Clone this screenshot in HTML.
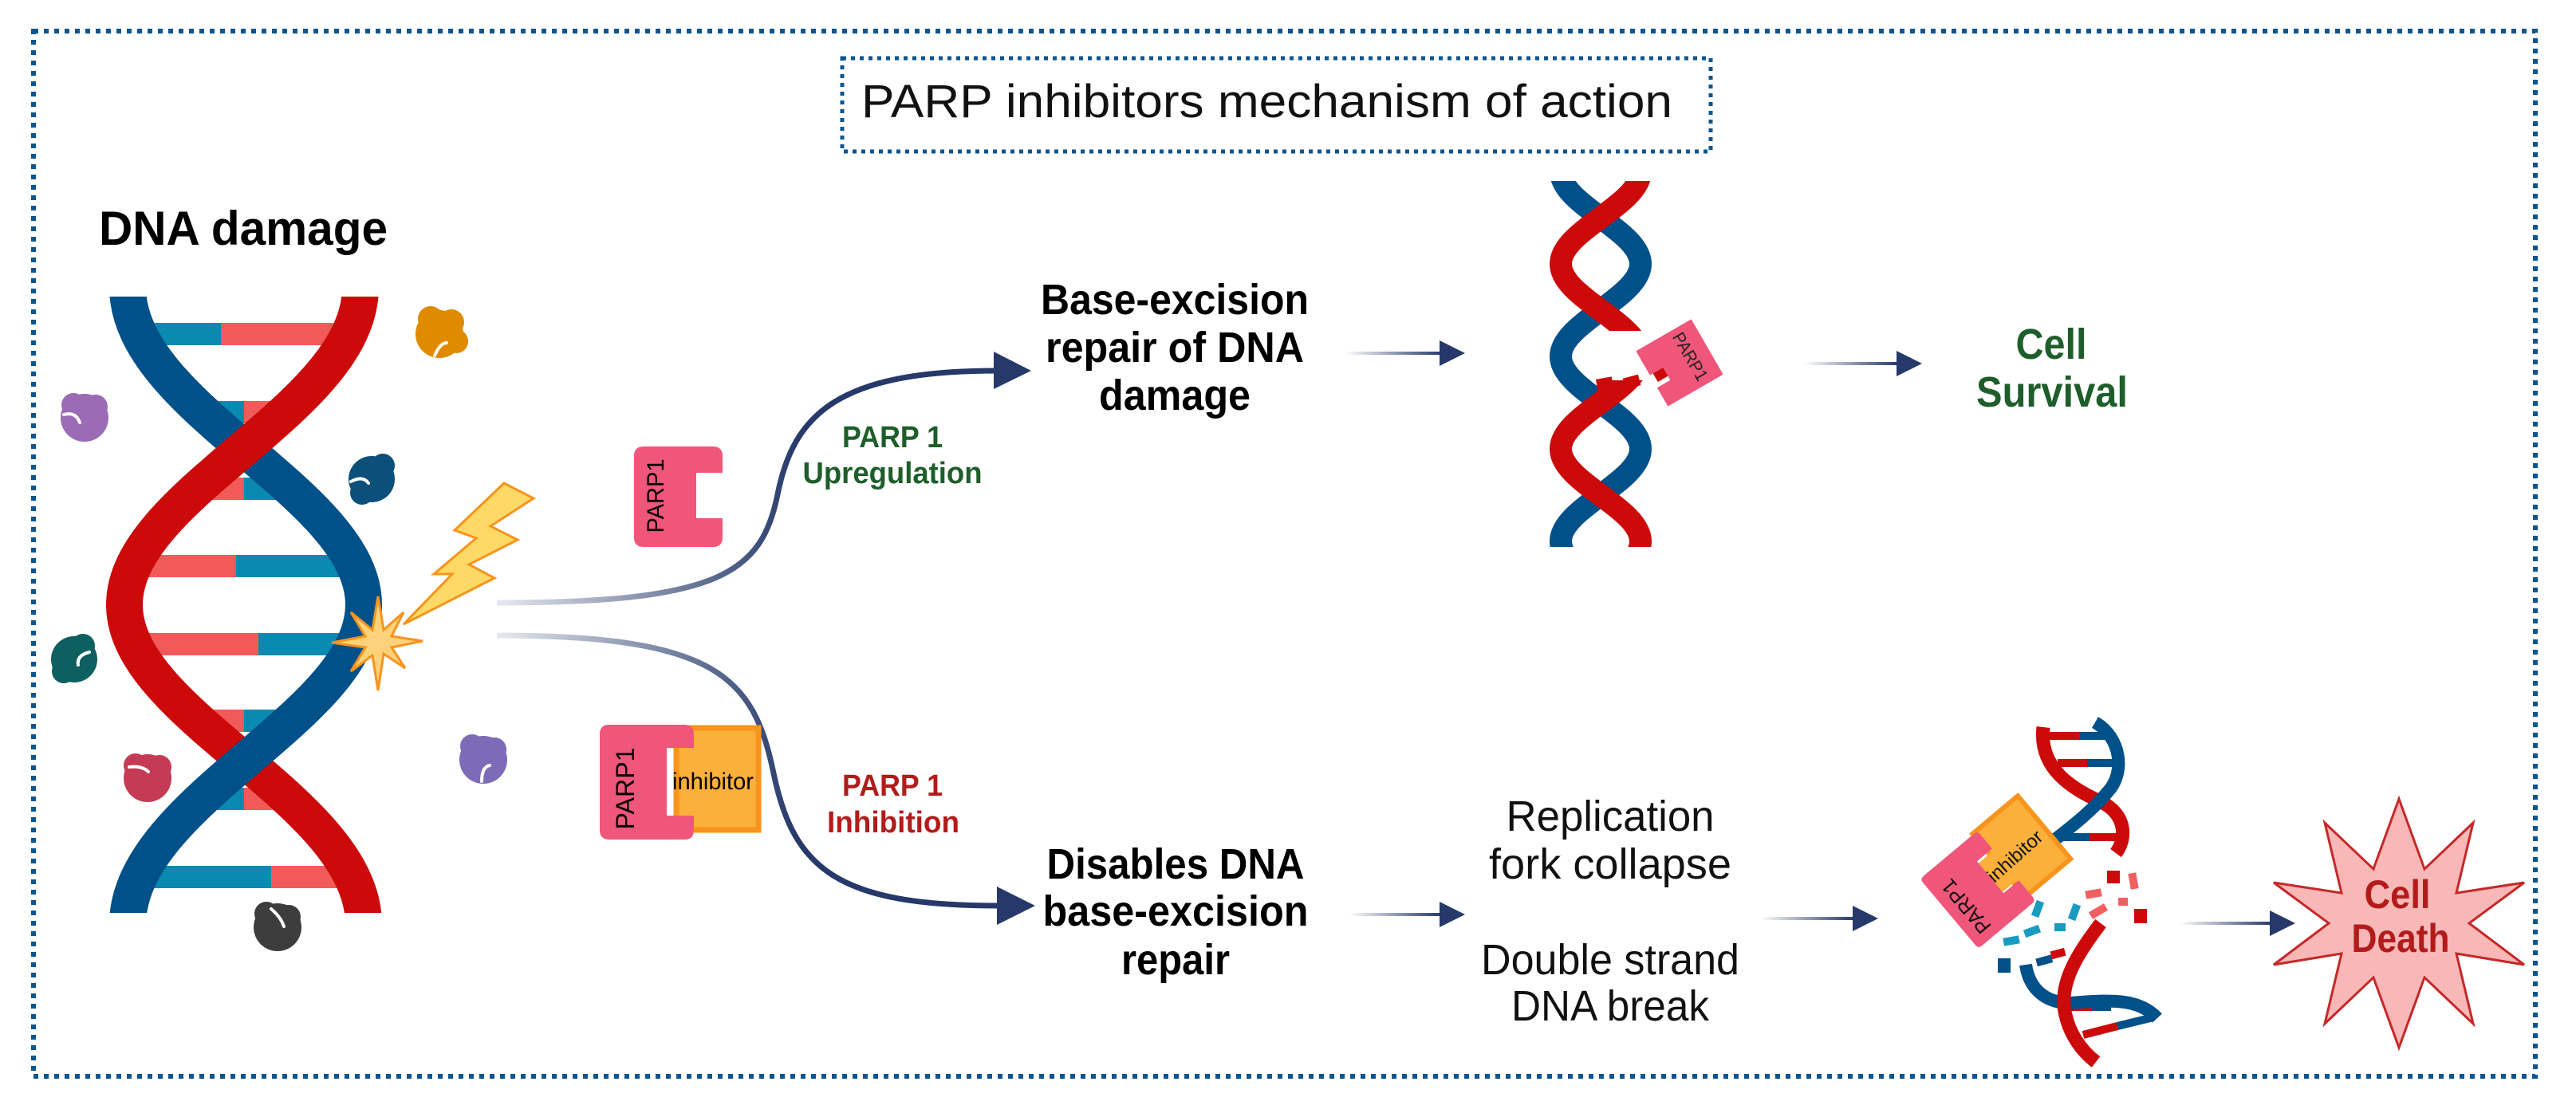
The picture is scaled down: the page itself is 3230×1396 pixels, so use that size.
<!DOCTYPE html>
<html><head><meta charset="utf-8"><style>
html,body{margin:0;padding:0;background:#fff;}
svg{display:block;}
text{font-family:"Liberation Sans",sans-serif;}
</style></head><body>
<svg width="3230" height="1396" viewBox="0 0 3230 1396" xmlns="http://www.w3.org/2000/svg">
<defs>
<linearGradient id="gU" gradientUnits="userSpaceOnUse" x1="623" y1="0" x2="1000" y2="0"><stop offset="0" stop-color="#e6e9ef"/><stop offset="1" stop-color="#26396a"/></linearGradient>
<linearGradient id="gA" x1="0" y1="0" x2="1" y2="0"><stop offset="0" stop-color="#ffffff"/><stop offset="1" stop-color="#26396a"/></linearGradient>
<clipPath id="cTop"><rect x="1900" y="227" width="250" height="459"/></clipPath>
<clipPath id="cRed"><rect x="1900" y="227" width="250" height="188"/><rect x="1900" y="477" width="250" height="209"/></clipPath>
<clipPath id="cL"><rect x="100" y="372" width="420" height="773"/></clipPath>
<clipPath id="cL2"><rect x="100" y="758" width="420" height="387"/></clipPath>
</defs>

<rect x="42" y="39" width="3137" height="1311" fill="none" stroke="#0b5590" stroke-width="6" stroke-dasharray="6 7"/>
<rect x="1056" y="73" width="1089" height="117" fill="none" stroke="#0b5590" stroke-width="5" stroke-dasharray="5 6"/>
<text x="1080" y="147" font-size="58" textLength="1017" lengthAdjust="spacingAndGlyphs" fill="#111">PARP inhibitors mechanism of action</text>

<text x="124" y="307" font-size="60" font-weight="bold" textLength="362" lengthAdjust="spacingAndGlyphs" fill="#000">DNA damage</text>

<g>
<g>
<rect x="167" y="405" width="110" height="28" fill="#0a8ab0"/><rect x="277" y="405" width="168" height="28" fill="#f25a5a"/>
<rect x="249" y="503" width="57" height="28" fill="#0a8ab0"/><rect x="306" y="503" width="57" height="28" fill="#f25a5a"/>
<rect x="249" y="599" width="57" height="28" fill="#f25a5a"/><rect x="306" y="599" width="57" height="28" fill="#0a8ab0"/>
<rect x="168" y="696" width="128" height="28" fill="#f25a5a"/><rect x="296" y="696" width="148" height="28" fill="#0a8ab0"/>
<rect x="168" y="794" width="156" height="28" fill="#f25a5a"/><rect x="324" y="794" width="120" height="28" fill="#0a8ab0"/>
<rect x="249" y="890" width="57" height="28" fill="#f25a5a"/><rect x="306" y="890" width="57" height="28" fill="#0a8ab0"/>
<rect x="247" y="988" width="59" height="28" fill="#0a8ab0"/><rect x="306" y="988" width="59" height="28" fill="#f25a5a"/>
<rect x="166" y="1086" width="174" height="28" fill="#0a8ab0"/><rect x="340" y="1086" width="106" height="28" fill="#f25a5a"/>
</g>
<g clip-path="url(#cL)" fill="none" stroke-width="46">
<path d="M160,360 C160,513 456,618 456,758.5 C456,899 160,1004 160,1160" stroke="#005089"/>
<path d="M452,360 C452,513 156,618 156,758.5 C156,899 456,1004 456,1160" stroke="#cc0a0a"/>
</g>
<g clip-path="url(#cL2)" fill="none" stroke-width="46">
<path d="M160,360 C160,513 456,618 456,758.5 C456,899 160,1004 160,1160" stroke="#005089"/>
</g>
</g>

<!-- proteins -->
<g stroke="#fff" stroke-width="4" stroke-linecap="round" fill="none">
<g><g fill="#e08a00" stroke="none"><circle cx="551" cy="419" r="30"/><circle cx="540" cy="400" r="16"/><circle cx="566" cy="404" r="16"/><circle cx="572" cy="428" r="15"/></g><path d="M545,446 Q552,430 560,430"/></g>
<g><g fill="#9b6bb5" stroke="none"><circle cx="106" cy="524" r="30"/><circle cx="92" cy="508" r="15"/><circle cx="120" cy="510" r="15"/></g><path d="M80,520 Q95,516 100,530"/></g>
<g><g fill="#0b4f7a" stroke="none"><circle cx="466" cy="601" r="29"/><circle cx="480" cy="584" r="15"/><circle cx="454" cy="618" r="15"/></g><path d="M440,604 Q455,596 462,606"/></g>
<g><g fill="#0e5f5f" stroke="none"><circle cx="93" cy="827" r="29"/><circle cx="104" cy="810" r="15"/><circle cx="80" cy="842" r="15"/></g><path d="M112,818 Q96,822 98,834"/></g>
<g><g fill="#c53a55" stroke="none"><circle cx="185" cy="976" r="30"/><circle cx="170" cy="960" r="15"/><circle cx="200" cy="962" r="15"/></g><path d="M162,962 Q178,960 186,968"/></g>
<g><g fill="#7e6bb8" stroke="none"><circle cx="606" cy="953" r="30"/><circle cx="592" cy="936" r="15"/><circle cx="620" cy="940" r="15"/></g><path d="M604,980 Q604,962 614,960"/></g>
<g><g fill="#3d3d3d" stroke="none"><circle cx="348" cy="1163" r="30"/><circle cx="334" cy="1146" r="15"/><circle cx="362" cy="1150" r="15"/></g><path d="M340,1140 Q352,1150 356,1162"/></g>
</g>

<polygon points="632,606 669,625 615,660 649,677 588,708 620,725 506,783 567,720 544,720 597,675 570,665" fill="#ffd966" stroke="#f7941d" stroke-width="3" stroke-linejoin="miter"/>
<polygon points="474,748 481,790 506,768 491,798 530,804 491,812 508,838 481,820 474,866 467,822 440,842 458,812 416,806 458,798 440,768 467,790" fill="#fdd27a" stroke="#f7941d" stroke-width="3"/>

<path d="M623,756 C900,756 955,720 975,620 C995,520 1050,465 1250,465" fill="none" stroke="url(#gU)" stroke-width="7"/>
<polygon points="1246,441 1293,465 1246,488" fill="#26396a"/>
<path d="M623,797 C900,797 945,850 970,970 C995,1090 1050,1136 1252,1136" fill="none" stroke="url(#gU)" stroke-width="7"/>
<polygon points="1250,1112 1298,1136 1250,1160" fill="#26396a"/>

<path d="M807,560 H894 Q906,560 906,572 V593 H873 V650 H906 V674 Q906,686 894,686 H807 Q795,686 795,674 V572 Q795,560 807,560 Z" fill="#f0567a"/>
<text transform="translate(832,622) rotate(-90)" x="0" y="0" font-size="30" text-anchor="middle" textLength="93" lengthAdjust="spacingAndGlyphs" fill="#000">PARP1</text>

<path d="M848,913 H951 V1041 H848 Z" fill="#fbb03b" stroke="#f7941d" stroke-width="7"/>
<path d="M764,909 H858 Q870,909 870,921 V938 H836 V1023 H870 V1041 Q870,1053 858,1053 H764 Q752,1053 752,1041 V921 Q752,909 764,909 Z" fill="#f0567a"/>
<text transform="translate(795,989) rotate(-90)" x="0" y="0" font-size="32" text-anchor="middle" textLength="103" lengthAdjust="spacingAndGlyphs" fill="#000">PARP1</text>
<text x="843" y="990" font-size="30" textLength="102" lengthAdjust="spacingAndGlyphs" fill="#000">inhibitor</text>

<g font-weight="bold" font-size="38" text-anchor="middle">
<text x="1119" y="561" fill="#1e5e2a" textLength="126" lengthAdjust="spacingAndGlyphs">PARP 1</text>
<text x="1119" y="606" fill="#1e5e2a" textLength="225" lengthAdjust="spacingAndGlyphs">Upregulation</text>
<text x="1119" y="998" fill="#b31b1b" textLength="126" lengthAdjust="spacingAndGlyphs">PARP 1</text>
<text x="1120" y="1044" fill="#b31b1b" textLength="166" lengthAdjust="spacingAndGlyphs">Inhibition</text>
</g>
<g font-weight="bold" font-size="54" text-anchor="middle" fill="#000">
<text x="1473" y="394" textLength="336" lengthAdjust="spacingAndGlyphs">Base-excision</text>
<text x="1473" y="454" textLength="324" lengthAdjust="spacingAndGlyphs">repair of DNA</text>
<text x="1473" y="514" textLength="190" lengthAdjust="spacingAndGlyphs">damage</text>
<text x="1474" y="1102" textLength="323" lengthAdjust="spacingAndGlyphs">Disables DNA</text>
<text x="1474" y="1161" textLength="333" lengthAdjust="spacingAndGlyphs">base-excision</text>
<text x="1474" y="1222" textLength="136" lengthAdjust="spacingAndGlyphs">repair</text>
</g>

<g>
<rect x="1687" y="441" width="120" height="4" fill="url(#gA)"/><polygon points="1805,427 1837,443 1805,459" fill="#26396a"/>
<rect x="2262" y="454" width="118" height="4" fill="url(#gA)"/><polygon points="2378,440 2410,456 2378,472" fill="#26396a"/>
<rect x="1692" y="1145" width="115" height="4" fill="url(#gA)"/><polygon points="1805,1131 1837,1147 1805,1163" fill="#26396a"/>
<rect x="2207" y="1150" width="118" height="4" fill="url(#gA)"/><polygon points="2323,1136 2355,1152 2323,1168" fill="#26396a"/>
<rect x="2733" y="1156" width="115" height="4" fill="url(#gA)"/><polygon points="2846,1142 2878,1158 2846,1174" fill="#26396a"/>
</g>

<g fill="none" stroke-width="28">
<path clip-path="url(#cTop)" d="M1957,215 C1957,257 2057,289 2057,331 C2057,373 1957,405 1957,447 C1957,489 2057,521 2057,563 C2057,605 1957,637 1957,679 C1957,721 2057,753 2057,795" stroke="#005089"/>
<path clip-path="url(#cRed)" d="M2057,215 C2057,257 1957,289 1957,331 C1957,373 2057,405 2057,447 C2057,489 1957,521 1957,563 C1957,605 2057,637 2057,679 C2057,721 1957,753 1957,795" stroke="#cc0a0a"/>
</g>
<g fill="#cc0a0a">
<rect x="2002" y="474" width="20" height="14" transform="rotate(-10 2012 481)"/>
<rect x="2036" y="472" width="20" height="14" transform="rotate(-15 2046 479)"/>
<rect x="2074" y="461" width="18" height="14" transform="rotate(-30 2084 468)"/>
</g>
<g transform="translate(2106,455) rotate(-30)">
<path d="M-39,-39 H39 V39 H-39 V14 H-20 V-6 H-39 Z" fill="#f0567a" stroke="#f0567a" stroke-width="2" stroke-linejoin="round"/>
<text transform="rotate(90)" x="0" y="-8" font-size="22" text-anchor="middle" textLength="66" lengthAdjust="spacingAndGlyphs" fill="#222">PARP1</text>
</g>
<text x="2572" y="450" font-size="54" font-weight="bold" text-anchor="middle" fill="#1e5e2a" textLength="89" lengthAdjust="spacingAndGlyphs">Cell</text>
<text x="2573" y="510" font-size="54" font-weight="bold" text-anchor="middle" fill="#1e5e2a" textLength="190" lengthAdjust="spacingAndGlyphs">Survival</text>

<g font-size="54" text-anchor="middle" fill="#111">
<text x="2019" y="1042" textLength="261" lengthAdjust="spacingAndGlyphs">Replication</text>
<text x="2019" y="1102" textLength="304" lengthAdjust="spacingAndGlyphs">fork collapse</text>
<text x="2019" y="1222" textLength="324" lengthAdjust="spacingAndGlyphs">Double strand</text>
<text x="2019" y="1280" textLength="248" lengthAdjust="spacingAndGlyphs">DNA break</text>
</g>

<g>
<rect x="2565" y="918" width="42" height="10" fill="#cc0a0a"/><rect x="2607" y="918" width="36" height="10" fill="#005089"/>
<rect x="2580" y="952" width="37" height="10" fill="#cc0a0a"/><rect x="2617" y="952" width="40" height="10" fill="#005089"/>
<rect x="2587" y="1045" width="33" height="10" fill="#005089"/><rect x="2620" y="1045" width="37" height="10" fill="#cc0a0a"/>
<path d="M2562,912 C2556,965 2600,990 2633,1005 C2665,1020 2668,1050 2653,1070" fill="none" stroke="#cc0a0a" stroke-width="17"/>
<path d="M2627,906 C2660,925 2665,970 2643,993 C2625,1015 2600,1035 2578,1052" fill="none" stroke="#005089" stroke-width="16"/>
<rect x="2553" y="1198" width="20" height="10" fill="#005089" transform="rotate(-15 2570 1203)"/><rect x="2573" y="1194" width="18" height="10" fill="#cc0a0a" transform="rotate(-15 2570 1203)"/>
<rect x="2597" y="1258" width="25" height="10" fill="#cc0a0a"/><rect x="2622" y="1258" width="25" height="10" fill="#005089"/>
<path d="M2612,1298 L2655,1287" stroke="#cc0a0a" stroke-width="10"/><path d="M2655,1287 L2700,1276" stroke="#005089" stroke-width="10"/>
<path d="M2540,1210 C2545,1245 2570,1258 2595,1258 C2640,1255 2680,1250 2705,1277" fill="none" stroke="#005089" stroke-width="16"/>
<path d="M2634,1158 C2610,1190 2585,1225 2588,1262 C2592,1295 2610,1318 2628,1332" fill="none" stroke="#cc0a0a" stroke-width="17"/>
<g fill="#1a9bc0">
<rect x="2550" y="1130" width="10" height="20" transform="rotate(20 2555 1140)"/>
<rect x="2596" y="1134" width="10" height="20" transform="rotate(20 2601 1144)"/>
<rect x="2538" y="1163" width="20" height="10" transform="rotate(-20 2548 1168)"/>
<rect x="2576" y="1158" width="14" height="10"/>
<rect x="2512" y="1175" width="20" height="10" transform="rotate(-10 2522 1180)"/>
</g>
<rect x="2505" y="1202" width="16" height="18" fill="#005089"/>
<g fill="#f06060">
<rect x="2615" y="1116" width="20" height="10" transform="rotate(-10 2625 1121)"/>
<rect x="2620" y="1138" width="22" height="10" transform="rotate(-30 2631 1143)"/>
<rect x="2656" y="1126" width="12" height="10"/>
<rect x="2670" y="1095" width="10" height="20" transform="rotate(-10 2675 1105)"/>
</g>
<rect x="2642" y="1092" width="16" height="16" fill="#cc0a0a"/>
<rect x="2676" y="1140" width="16" height="18" fill="#cc0a0a"/>
<g transform="translate(2480,1116) rotate(-40)">
<path d="M40,-58 H114 V45 H40 Z" fill="#fbb03b" stroke="#f7941d" stroke-width="6"/>
<path d="M20,-25 H48 V22 H20 Z" fill="#fbb03b"/>
<path d="M-41,-57 H41 Q47,-57 47,-51 V-28 H22 V24 H47 V51 Q47,57 41,57 H-41 Q-47,57 -47,51 V-51 Q-47,-57 -41,-57 Z" fill="#f0567a"/>
</g>
<text transform="translate(2472,1131) rotate(-130)" x="0" y="0" font-size="26" text-anchor="middle" textLength="80" lengthAdjust="spacingAndGlyphs" fill="#111">PARP1</text>
<text transform="translate(2532,1080) rotate(-42)" x="0" y="0" font-size="24" text-anchor="middle" textLength="84" lengthAdjust="spacingAndGlyphs" fill="#111">inhibitor</text>
</g>

<polygon points="3008,1002 3040,1090 3101,1032 3080,1120 3165,1107 3096,1158 3165,1210 3080,1196 3101,1284 3040,1226 3008,1314 2976,1226 2915,1284 2936,1196 2851,1210 2920,1158 2851,1107 2936,1120 2915,1032 2976,1090" fill="#f9b8b8" stroke="#c62828" stroke-width="3" stroke-linejoin="miter"/>
<text x="3006" y="1139" font-size="50" font-weight="bold" text-anchor="middle" fill="#b31b1b" textLength="83" lengthAdjust="spacingAndGlyphs">Cell</text>
<text x="3010" y="1194" font-size="50" font-weight="bold" text-anchor="middle" fill="#b31b1b" textLength="123" lengthAdjust="spacingAndGlyphs">Death</text>
</svg>
</body></html>
